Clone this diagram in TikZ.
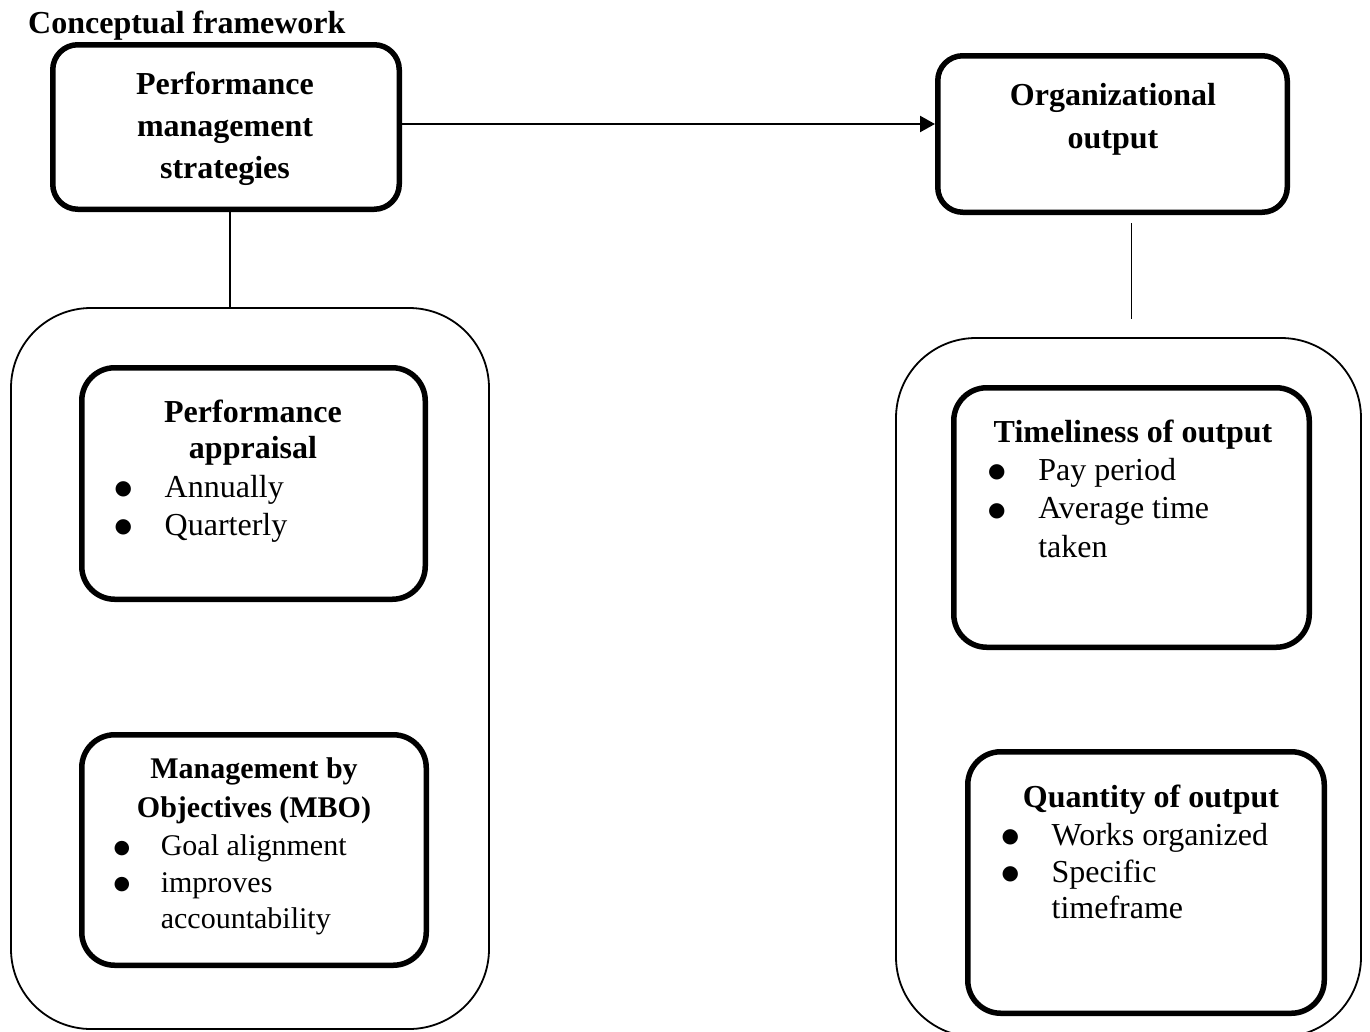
\documentclass[tikz,border=0pt]{standalone}
\usepackage{fontspec}
\setmainfont{Liberation Serif}
\newfontfamily\dotfont{DejaVu Sans}
\usetikzlibrary{positioning, arrows.meta, calc}
\newcommand{\bulletitem}[1][20]{\makebox[1.47em][l]{\hspace{-3pt}\raisebox{2.5pt}{\dotfont\fontsize{#1}{#1}\selectfont ●}}}
\newcommand{\bulletcont}{\makebox[1.47em]{}}

\begin{document}
\begin{tikzpicture}[x=1pt, y=-1pt,
  mainbox/.style={rectangle, rounded corners=25pt, draw, line width=5.5pt, inner sep=0pt},
  subbox/.style={rectangle, rounded corners=33pt, draw, line width=5.5pt, inner sep=0pt},
  groupbox/.style={rectangle, rounded corners=80pt, draw, line width=1.8pt, inner sep=0pt},
  heading/.style={inner sep=0pt, align=center, anchor=north, font=\fontsize{32}{38}\selectfont\bfseries},
  bullets/.style={inner sep=0pt, align=left, anchor=north west, font=\fontsize{32}{38.3}\selectfont},
  link/.style={line width=1.5pt},
  flow/.style={line width=2.3pt, -{Triangle[length=15pt, width=16pt]}}]
  \useasboundingbox (0,0) rectangle (1370,1031);

  \node[anchor=base west, inner sep=0pt, font=\fontsize{32}{38}\selectfont\bfseries] (title) at (28,33) {Conceptual framework};

  % top boxes
  \node[mainbox, minimum width=346.5pt, minimum height=164.5pt] (pms) at (226,127) {};
  \node[heading, font=\fontsize{32}{42}\selectfont\bfseries] (pmstext) at ($(pms.north)+(-1,30)$) {Performance\\management\\strategies};
  \node[mainbox, minimum width=349.5pt, minimum height=156.5pt] (oo) at (1112.5,134) {};
  \node[heading, font=\fontsize{32}{43}\selectfont\bfseries] (ootext) at ($(oo.north)+(0.5,30)$) {Organizational\\output};

  % groups
  \node[groupbox, minimum width=478pt, minimum height=721pt] (lo) at (250,668.5) {};
  \node[groupbox, minimum width=465pt, minimum height=699pt] (ro) at (1128.5,687.5) {};

  % left group
  \node[subbox, minimum width=343.5pt, minimum height=231.5pt] (pa) at (253.5,483.5) {};
  \node[heading, font=\fontsize{32}{36.3}\selectfont\bfseries] (pahead) at ($(pa.north)+(-0.5,34.7)$) {Performance\\appraisal};
  \node[bullets] (palist) at ($(pa.north west)+(38.5,109.7)$) {\bulletitem Annually\\\bulletitem Quarterly};

  \node[subbox, minimum width=344.5pt, minimum height=230.5pt] (mbo) at (254,850) {};
  \node[heading, font=\fontsize{30}{38.5}\selectfont\bfseries] (mbohead) at ($(mbo.north)+(0,25.5)$) {Management by\\Objectives (MBO)};
  \node[bullets, font=\fontsize{30}{36.5}\selectfont] (mbolist) at ($(mbo.north west)+(37.5,102.5)$) {\bulletitem[19]Goal alignment\\\bulletitem[19]improves\\\bulletcont accountability};

  % right group
  \node[subbox, minimum width=355.5pt, minimum height=259.5pt] (tl) at (1131.5,517.5) {};
  \node[heading] (tlhead) at ($(tl.north)+(1.5,34.7)$) {Timeliness of output};
  \node[bullets] (tllist) at ($(tl.north west)+(40,73)$) {\bulletitem Pay period\\\bulletitem Average time\\\bulletcont taken};

  \node[subbox, minimum width=356.5pt, minimum height=261.5pt] (qo) at (1146,882.5) {};
  \node[heading] (qohead) at ($(qo.north)+(5,35.7)$) {Quantity of output};
  \node[bullets, font=\fontsize{32}{36.7}\selectfont] (qolist) at ($(qo.north west)+(39.4,74)$) {\bulletitem Works organized\\\bulletitem Specific\\\bulletcont timeframe};

  % connectors
  \draw[flow] ([yshift=3pt]pms.east) -- ([yshift=3pt]pms.east -| oo.west);
  \draw[link] ([xshift=4pt]pms.south) -- ([xshift=4pt]pms.south |- lo.north);
  \draw[link] ([xshift=3pt, yshift=-8pt]oo.south -| ro.north) -- ([xshift=3pt, yshift=18pt]ro.north);
\end{tikzpicture}
\end{document}
